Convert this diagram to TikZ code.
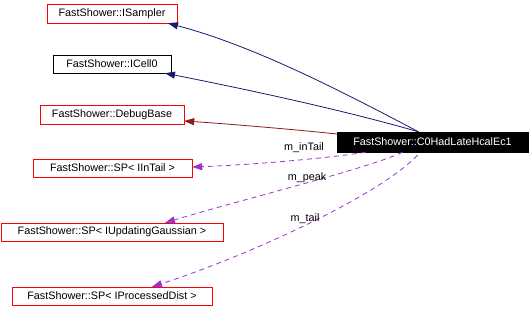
\documentclass[tikz,border=0pt]{standalone}
\usepackage{fontspec}
\setmainfont{Liberation Sans}
\usetikzlibrary{arrows.meta}
\definecolor{navyedge}{RGB}{25,25,112}
\definecolor{privedge}{RGB}{139,26,26}
\definecolor{useedge}{RGB}{154,50,205}
\begin{document}
\begin{tikzpicture}[x=1pt,y=-1pt,
    cls/.style={draw=red, inner sep=0pt, minimum height=18pt, font=\fontsize{10.8}{13}\selectfont},
    inh/.style={navyedge, line width=0.8pt, -{Triangle[length=10pt,width=7pt]}},
    priv/.style={privedge, line width=0.8pt, -{Triangle[length=10pt,width=7pt]}},
    use/.style={useedge, line width=0.8pt, dash pattern=on 5pt off 4pt, -{Triangle[length=10pt,width=7pt]}},
    lbl/.style={font=\fontsize{10.8}{13}\selectfont}]
   \useasboundingbox (0,0) rectangle (530,322);
   \node[cls, minimum width=130pt, minimum height=19pt] (isampler) at (112,13.5) {FastShower::ISampler};
   \node[cls, draw=black, minimum width=118pt] (icell) at (112,64) {FastShower::ICell0};
   \node[cls, minimum width=144pt, minimum height=19pt] (debug) at (112,114.5) {FastShower::DebugBase};
   \node[cls, minimum width=159pt] (intail) at (112.5,168) {FastShower::SP< IInTail >};
   \node[cls, minimum width=222pt] (gauss) at (112,232) {FastShower::SP< IUpdatingGaussian >};
   \node[cls, minimum width=200pt] (procdist) at (112,296) {FastShower::SP< IProcessedDist >};
   \node[cls, draw=black, fill=black, text=white, minimum width=191pt, minimum height=20pt] (c0) at (432.5,142) {FastShower::C0HadLateHcalEc1};
   % base classes
   \draw[inh] ([xshift=-14pt]c0.north) .. controls (330,85) and (250,45) .. ([xshift=56pt]isampler.south);
   \draw[inh] ([xshift=-14pt]c0.north) .. controls (350,112) and (260,92) .. ([xshift=53pt]icell.south);
   \draw[priv] ([yshift=8pt]c0.west) .. controls (300,130) and (230,124) .. ([yshift=-6.5pt]debug.east);
   % members
   \draw[use] ([xshift=-67pt]c0.south) .. controls (330,158) and (250,165) .. ([yshift=1pt]intail.east);
   \draw[use] ([xshift=-30pt]c0.south) .. controls (370,168) and (240,200) .. ([xshift=53pt]gauss.north);
   \draw[use] ([xshift=-15pt,yshift=-3pt]c0.south) .. controls (380,195) and (250,255) .. ([xshift=40pt]procdist.north);
   \node[lbl] (lintail) at (304,148) {m\_inTail};
   \node[lbl] (lpeak) at (307,178) {m\_peak};
   \node[lbl] (ltail) at (305,219) {m\_tail};
\end{tikzpicture}
\end{document}
